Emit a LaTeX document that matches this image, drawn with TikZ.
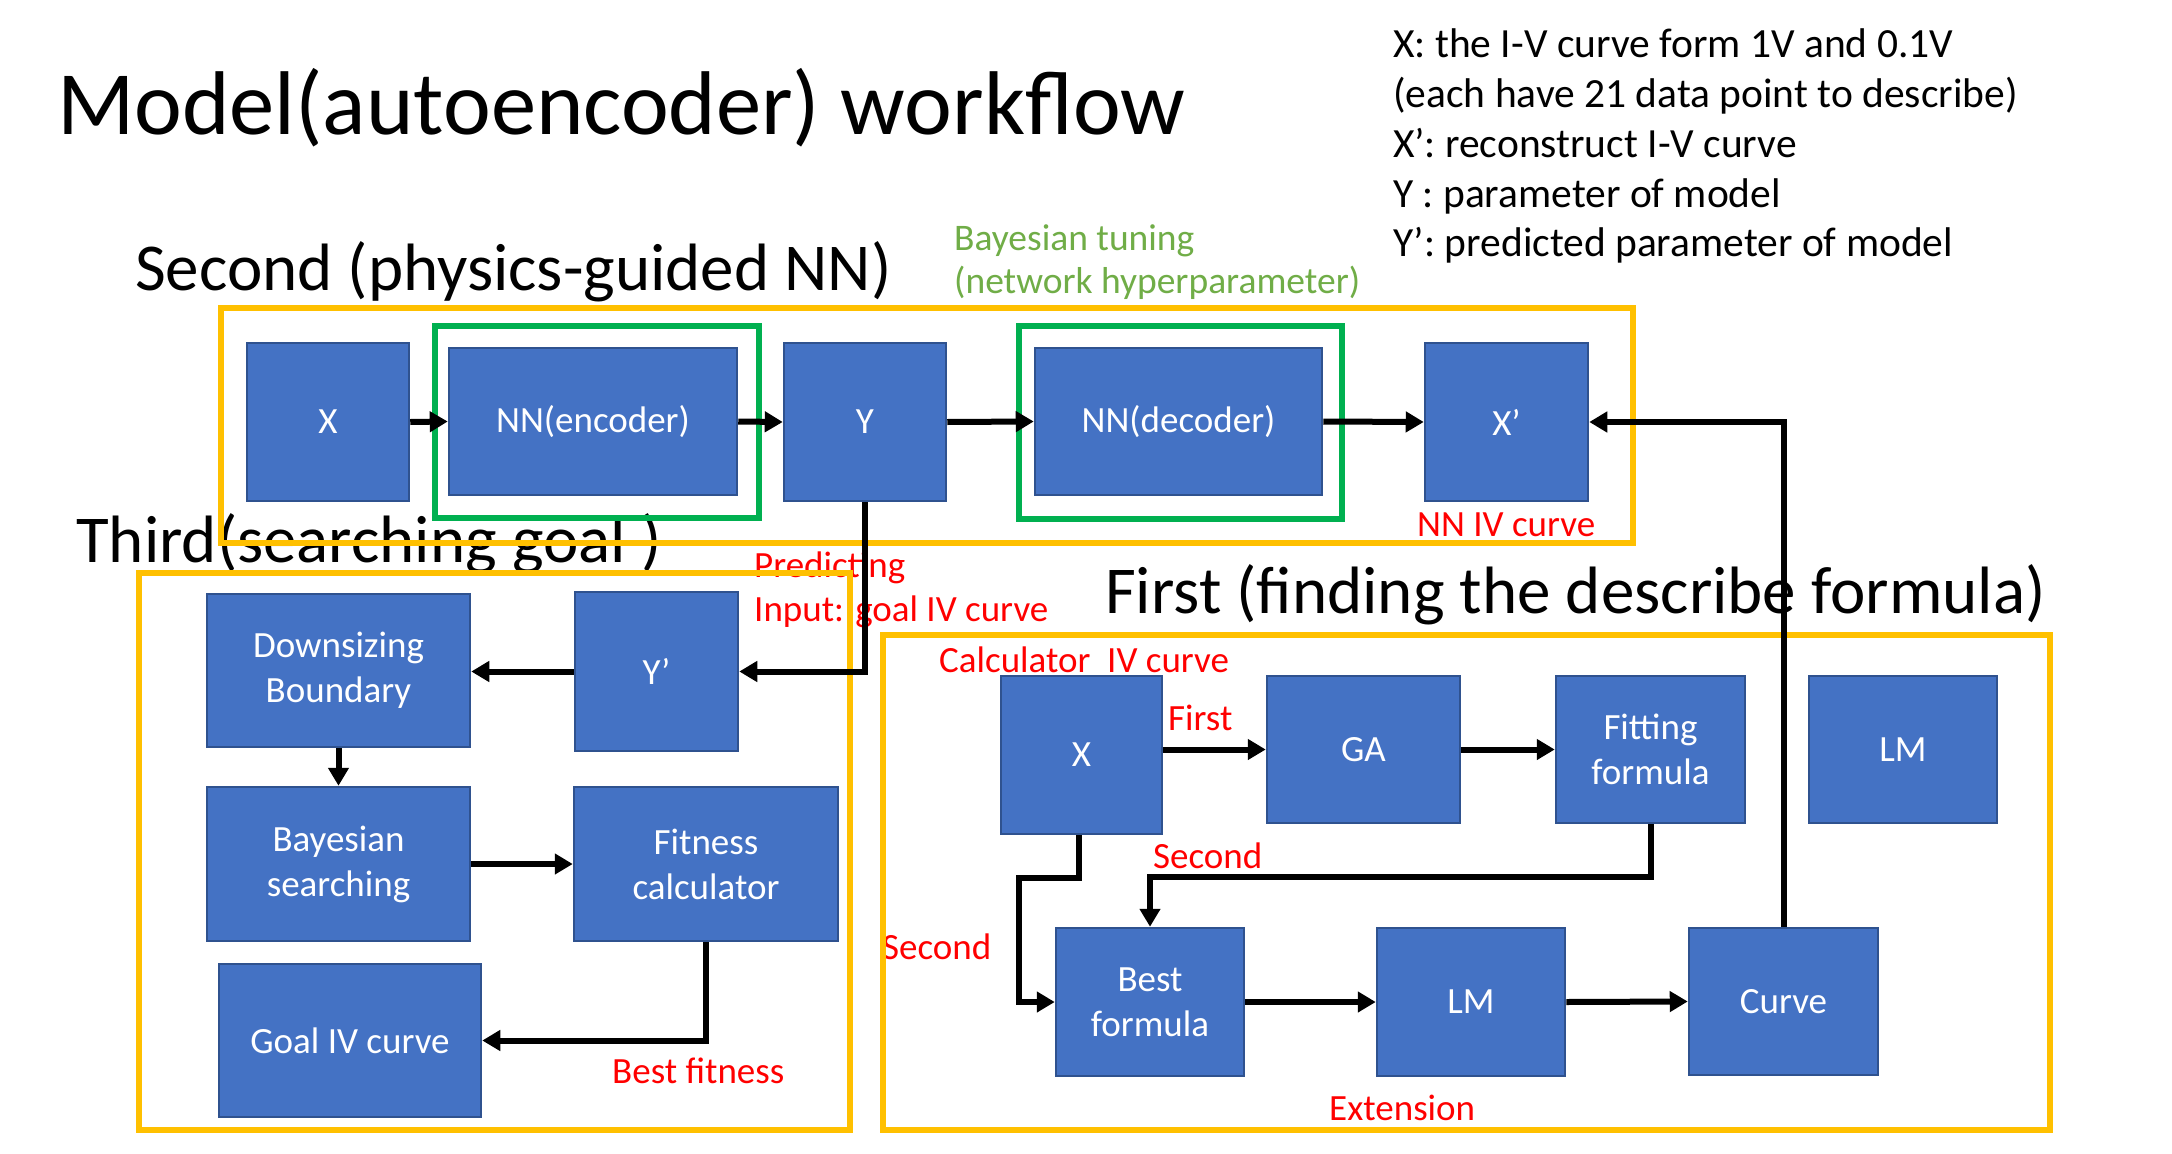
\documentclass[tikz,border=0pt]{standalone}
\usepackage{fontspec}
\setmainfont{Carlito}
\usetikzlibrary{arrows.meta,calc}
\definecolor{boxfill}{HTML}{4472C4}
\definecolor{boxline}{HTML}{2F528F}
\definecolor{orng}{HTML}{FFC000}
\definecolor{grn}{HTML}{00B050}
\definecolor{grntxt}{HTML}{70AD47}
\definecolor{redtxt}{HTML}{FF0000}
\tikzset{
  blk/.style={draw=boxline, line width=2.5pt, fill=boxfill, text=white, align=center, inner sep=0pt,
    font=\fontsize{37}{45}\selectfont},
  arr/.style={draw=black, line width=6pt, -{Triangle[length=18pt,width=20pt]}},
  orangebox/.style={draw=orng, line width=6pt},
  greenbox/.style={draw=grn, line width=6pt},
  redlbl/.style={text=redtxt, anchor=base west, inner sep=0pt, font=\fontsize{37}{45}\selectfont},
  grnlbl/.style={text=grntxt, anchor=base west, inner sep=0pt, font=\fontsize{37.5}{45}\selectfont},
  blacklbl/.style={text=black, anchor=base west, inner sep=0pt},
  sectitle/.style={blacklbl, font=\fontsize{67}{72}\selectfont},
}
\begin{document}
\begin{tikzpicture}[x=1pt,y=-1pt]
\useasboundingbox[fill=white] (0,0) rectangle (2172,1154);

% titles
\node[blacklbl, font=\fontsize{90.5}{100}\selectfont] (title) at (57,134) {Model(autoencoder) workflow};
\node[sectitle] (t2) at (135,290) {Second (physics-guided NN)};
\node[sectitle] (t3) at (76,562) {Third(searching goal )};
\node[sectitle] (t1) at (1105,613) {First (finding the describe formula)};

% legend
\begin{scope}[every node/.style={blacklbl, font=\fontsize{41.5}{48}\selectfont}]
\node (lg1) at (1393,57) {X: the I-V curve form 1V and 0.1V};
\node (lg2) at (1393,107) {(each have 21 data point to describe)};
\node (lg3) at (1393,157) {X’: reconstruct I-V curve};
\node (lg4) at (1393,207) {Y : parameter of model};
\node (lg5) at (1393,256) {Y’: predicted parameter of model};
\end{scope}

% green labels
\node[grnlbl] (bt1) at (954,250) {Bayesian tuning};
\node[grnlbl] (bt2) at (954,293) {(network hyperparameter)};

% red labels
\node[redlbl] (nniv) at (1417,536) {NN IV curve};
\node[redlbl] (pred) at (754,577) {Predicting};
\node[redlbl] (inp) at (754,621) {Input: goal IV curve};
\node[redlbl] (bestfit) at (612,1083) {Best fitness};
\node[redlbl] (calc) at (939,672) {Calculator\ \ IV curve};
\node[redlbl] (lfirst) at (1168,730) {First};
\node[redlbl] (lsec1) at (1153,868) {Second};
\node[redlbl] (lsec2) at (882,959) {Second};
\node[redlbl] (ext) at (1329,1120) {Extension};

% frames
\draw[orangebox] (221,308) rectangle (1633,543);
\draw[orangebox] (139,573) rectangle (850,1130);
\draw[orangebox] (883,635) rectangle (2050,1130);
\draw[greenbox] (435,326) rectangle (759,518);
\draw[greenbox] (1019,326) rectangle (1342,519);

% second row boxes
\node[blk, minimum width=162pt, minimum height=158pt] (X) at (328,422) {X};
\node[blk, minimum width=288pt, minimum height=147pt] (enc) at (593,421.5) {NN(encoder)};
\node[blk, minimum width=162pt, minimum height=158pt] (Y) at (865,422) {Y};
\node[blk, minimum width=287pt, minimum height=147pt] (dec) at (1178.5,421.5) {NN(decoder)};
\node[blk, minimum width=163pt, minimum height=158pt] (Xp) at (1506.5,422) {X’};

% third
\node[blk, minimum width=263pt, minimum height=153pt] (down) at (338.5,670.5) {Downsizing\\Boundary};
\node[blk, minimum width=163pt, minimum height=159pt] (Yp) at (656.5,671.5) {Y’};
\node[blk, minimum width=263pt, minimum height=154pt] (bay) at (338.5,864) {Bayesian\\searching};
\node[blk, minimum width=264pt, minimum height=154pt] (fit) at (706,864) {Fitness\\calculator};
\node[blk, minimum width=262pt, minimum height=153pt] (goal) at (350,1040.5) {Goal IV curve};

% first
\node[blk, minimum width=161pt, minimum height=158pt] (X2) at (1081.5,755) {X};
\node[blk, minimum width=193pt, minimum height=147pt] (GA) at (1363.5,749.5) {GA};
\node[blk, minimum width=189pt, minimum height=147pt] (fitf) at (1650.5,749.5) {Fitting\\formula};
\node[blk, minimum width=188pt, minimum height=147pt] (LM1) at (1903,749.5) {LM};
\node[blk, minimum width=188pt, minimum height=148pt] (best) at (1150,1002) {Best\\formula};
\node[blk, minimum width=188pt, minimum height=148pt] (LM2) at (1471,1002) {LM};
\node[blk, minimum width=189pt, minimum height=147pt] (curve) at (1783.5,1001.5) {Curve};

% connectors
\draw[arr] (X.east) -- (enc.west);
\draw[arr] (enc.east) -- (Y.west);
\draw[arr] (Y.east) -- (dec.west);
\draw[arr] (dec.east) -- (Xp.west);
\draw[arr] (Y.south) |- (Yp.east);
\draw[arr] (Yp.west) -- (down.east |- Yp.west);
\draw[arr] (down.south) -- (bay.north);
\draw[arr] (bay.east) -- (fit.west);
\draw[arr] (fit.south) |- (goal.east);
\draw[arr] (X2.east |- GA.west) -- (GA.west);
\draw[arr] (GA.east) -- (fitf.west);
\coordinate (j1) at (1019,878);
\draw[arr] ([xshift=-3pt]X2.south) |- (j1) |- (best.west);
\draw[arr] (fitf.south) -- ++(0,53) -| (best.north);
\draw[arr] (best.east) -- (LM2.west);
\draw[arr] (LM2.east) -- (curve.west);
\draw[arr] (curve.north) |- (Xp.east);
\end{tikzpicture}
\end{document}
